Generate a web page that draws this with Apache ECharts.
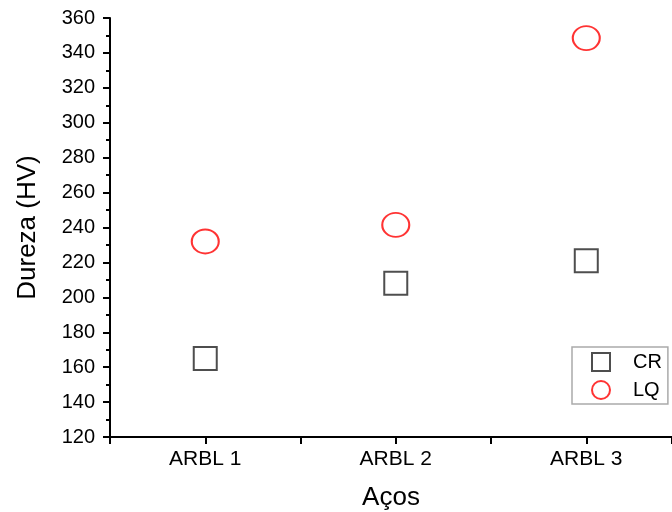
<!DOCTYPE html>
<html>
<head>
<meta charset="UTF-8">
<title>Dureza</title>
<script src="https://cdn.jsdelivr.net/npm/echarts@6/dist/echarts.min.js"></script>
<style>
  html, body { margin: 0; padding: 0; background: #fff; }
  #main { width: 672px; height: 512px; }
</style>
</head>
<body>
<div id="main"></div>
<script>
var categories = ['ARBL 1', 'ARBL 2', 'ARBL 3'];
var crValues = [165, 208, 221];
var lqValues = [232, 241.5, 348.5];
var yTicks = { min: 120, max: 360, step: 20 };

var chart = echarts.init(document.getElementById('main'));

function toPoints(vals) {
    return vals.map(function (v, i) { return [i + 1, v]; });
}

var font = 'Liberation Sans, Arial, sans-serif';

chart.setOption({
    animation: false,
    grid: { left: 110, top: 18, bottom: 75, right: 0, outerBoundsMode: 'none' },
    xAxis: {
        type: 'value',
        min: 0.5,
        max: 3.45,   // plot is cut at the right edge of the picture
        interval: 0.5,
        name: 'Aços',
        nameLocation: 'middle',
        nameGap: 48,
        nameTextStyle: { fontFamily: font, fontSize: 26, color: '#000' },
        axisLine: { lineStyle: { color: '#000', width: 2 } },
        axisTick: { length: 7, lineStyle: { color: '#000', width: 2 } },
        axisLabel: {
            margin: 12,
            fontFamily: font,
            fontSize: 21,
            color: '#000',
            formatter: function (v) {
                return Number.isInteger(v) ? categories[v - 1] : '';
            }
        },
        splitLine: { show: false }
    },
    yAxis: {
        type: 'value',
        min: yTicks.min,
        max: yTicks.max,
        interval: yTicks.step,
        name: 'Dureza (HV)',
        nameLocation: 'middle',
        nameGap: 69,
        nameTextStyle: { fontFamily: font, fontSize: 26, color: '#000' },
        axisLine: { show: true, lineStyle: { color: '#000', width: 2 } },
        axisTick: { show: true, length: 7, lineStyle: { color: '#000', width: 2 } },
        minorTick: { show: true, splitNumber: 2, length: 4, lineStyle: { color: '#000', width: 2 } },
        axisLabel: { margin: 15, fontFamily: font, fontSize: 20, color: '#000' },
        splitLine: { show: false }
    },
    legend: {
        orient: 'vertical',
        left: 572,
        top: 347,
        padding: [5, 6, 4, 19],
        itemWidth: 18,
        itemHeight: 18,
        itemGap: 8,
        borderColor: '#aaa',
        borderWidth: 1.5,
        textStyle: { fontFamily: font, fontSize: 20, color: '#000', padding: [0, 0, 0, 18] },
        data: ['CR', 'LQ']
    },
    series: [
        {
            name: 'CR',
            type: 'scatter',
            symbol: 'rect',
            symbolSize: 23,
            itemStyle: { color: '#fff', borderColor: '#222', borderWidth: 2 },
            data: toPoints(crValues)
        },
        {
            name: 'LQ',
            type: 'scatter',
            symbol: 'circle',
            symbolSize: [27, 24],
            itemStyle: { color: '#fff', borderColor: '#f00', borderWidth: 2 },
            data: toPoints(lqValues)
        }
    ]
});
</script>
</body>
</html>
